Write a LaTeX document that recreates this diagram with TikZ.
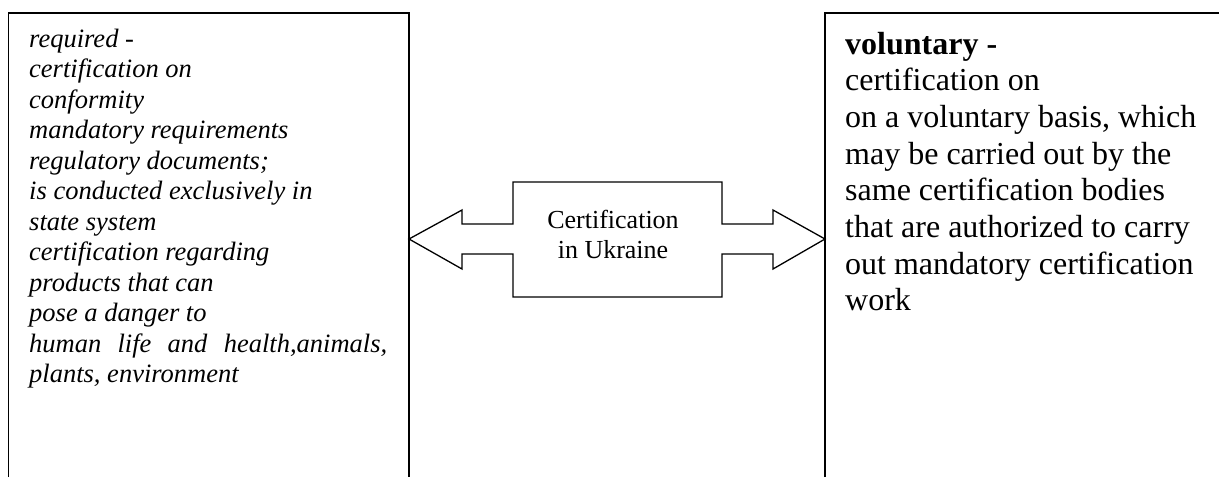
\documentclass[tikz,border=0pt]{standalone}
\usepackage{fontspec}
\setmainfont{Liberation Serif}
\begin{document}
\begin{tikzpicture}[x=1pt,y=-1pt,
  frame/.style={line width=1.7pt},
  arrowshape/.style={line width=1.3pt, fill=white},
  lefttext/.style={anchor=base west, inner sep=0pt, align=left,
    font=\fontsize{26.5}{30.5}\selectfont\itshape},
  righttext/.style={anchor=base west, inner sep=0pt, align=left,
    font=\fontsize{32}{36.7}\selectfont},
  centertext/.style={anchor=base, inner sep=0pt, align=center,
    font=\fontsize{26}{30}\selectfont}]
\useasboundingbox (0,0) rectangle (1219,477);
% frames
\coordinate (lbl) at (8.5,477);
\coordinate (ltl) at (8.5,13);
\coordinate (ltr) at (409,13);
\coordinate (lbr) at (409,477);
\coordinate (rbl) at (825,477);
\coordinate (rtl) at (825,13);
\coordinate (rtr) at (1219,13);
\draw[frame] (lbl) -- (ltl) -- (ltr) -- (lbr);
\draw[frame] (rbl) -- (rtl) -- (rtr);
% double arrow
\draw[arrowshape] (409,239) -- (462,210) -- (462,224) -- (513,224) -- (513,182)
  -- (722,182) -- (722,224) -- (773,224) -- (773,210) -- (825,239)
  -- (773,269) -- (773,254) -- (722,254) -- (722,297) -- (513,297)
  -- (513,254) -- (462,254) -- (462,269) -- cycle;
% base anchor of a multi-line node = baseline of its last line
\node[centertext] (center) at (613,258) {Certification\\in Ukraine};
% texts
\node[lefttext] (lefttxt) at (29,382.5) {required -\\certification on\\conformity\\mandatory requirements\\regulatory documents;\\is conducted exclusively in\\state system\\certification regarding\\products that can\\pose a danger to\\\makebox[358pt][s]{human life and health,animals,}\\plants, environment};
\node[righttext] (righttxt) at (845,310.9) {\textbf{voluntary -}\\certification on\\on a voluntary basis, which\\may be carried out by the\\same certification bodies\\that are authorized to carry\\out mandatory certification\\work};
\end{tikzpicture}
\end{document}
